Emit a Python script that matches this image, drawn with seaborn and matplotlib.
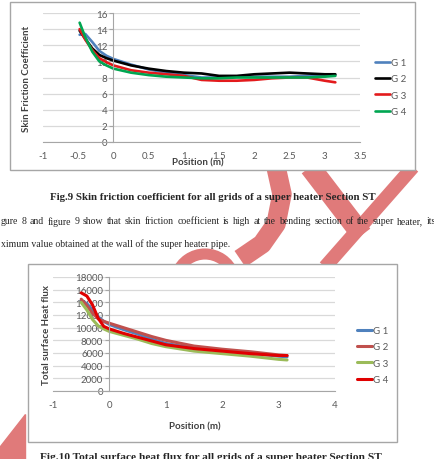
import numpy as np
import pandas as pd
import matplotlib
matplotlib.use("Agg")
import matplotlib.pyplot as plt
import seaborn as sns
from matplotlib.lines import Line2D
from matplotlib.patches import Rectangle, Polygon, Arc

sns.set_style("white")
plt.rcParams['font.family'] = ['Lato', 'DejaVu Sans']

# ---------------- data: Fig.9 skin friction ----------------
sf_pos = [-0.48, -0.4, -0.3, -0.2, -0.1, 0, 0.25, 0.5, 0.75, 1, 1.25, 1.5, 1.75, 2, 2.25, 2.5, 2.75, 3, 3.15]
sf_g1 = [13.3, 13.4, 12.4, 11.3, 10.7, 10.3, 9.6, 9.0, 8.6, 8.3, 8.0, 8.0, 8.1, 8.1, 8.1, 8.1, 8.2, 8.3, 8.3]
sf_g2 = [13.8, 12.8, 11.6, 10.8, 10.4, 10.1, 9.5, 9.1, 8.8, 8.6, 8.5, 8.2, 8.2, 8.4, 8.5, 8.6, 8.5, 8.4, 8.4]
sf_g3 = [14.0, 12.7, 11.4, 10.4, 9.9, 9.5, 8.9, 8.6, 8.4, 8.2, 7.7, 7.6, 7.6, 7.7, 7.9, 8.0, 8.0, 7.6, 7.4]
sf_g4 = [14.8, 13.0, 11.2, 10.0, 9.5, 9.1, 8.6, 8.3, 8.1, 8.0, 7.9, 7.9, 8.0, 8.0, 8.0, 8.0, 8.0, 8.1, 8.2]

# ---------------- data: Fig.10 heat flux ----------------
hf_pos = [-0.5, -0.4, -0.3, -0.2, -0.1, 0, 0.25, 0.5, 0.75, 1, 1.5, 2, 2.5, 3, 3.15]
hf_g1 = [14300, 13800, 12800, 11700, 11000, 10500, 9700, 9000, 8200, 7500, 6800, 6400, 6000, 5500, 5400]
hf_g2 = [14500, 13500, 12300, 11400, 11000, 10700, 10000, 9300, 8600, 8000, 7100, 6600, 6200, 5700, 5600]
hf_g3 = [14000, 12800, 11300, 10300, 9800, 9400, 8800, 8200, 7500, 7000, 6300, 5900, 5500, 5000, 4900]
hf_g4 = [15500, 15000, 13600, 11500, 10200, 9800, 9100, 8500, 7900, 7300, 6700, 6300, 5900, 5600, 5600]

grids = ["G 1", "G 2", "G 3", "G 4"]
sf_ticks = [-1, -0.5, 0, 0.5, 1, 1.5, 2, 2.5, 3, 3.5]
hf_ticks = [-1, 0, 1, 2, 3, 4]

sf_df = pd.concat([pd.DataFrame({"pos": sf_pos, "val": v, "grid": g})
                   for g, v in zip(grids, [sf_g1, sf_g2, sf_g3, sf_g4])])
hf_df = pd.concat([pd.DataFrame({"pos": hf_pos, "val": v, "grid": g})
                   for g, v in zip(grids, [hf_g1, hf_g2, hf_g3, hf_g4])])

W, H = 435, 460
fig = plt.figure(figsize=(W / 100, H / 100), dpi=100)
fig.patch.set_facecolor("white")


def fx(x):
    return x / W


def fy(y):
    return 1 - y / H


# watermark (drawn under the chart boxes)
wm = "#e07a7a"
for pts, lw in [([(276, 168), (282, 195), (276, 225), (262, 245), (240, 260)], 14),
                ([(310, 168), (362, 236)], 15),
                ([(413, 168), (325, 268)], 10)]:
    xs, ys = zip(*pts)
    fig.add_artist(Line2D([fx(v) for v in xs], [fy(v) for v in ys], lw=lw, color=wm,
                          solid_capstyle="butt", solid_joinstyle="round",
                          transform=fig.transFigure, zorder=1))
fig.add_artist(Arc((fx(205), fy(285)), fx(60), 60 / H, theta1=20, theta2=160, lw=8,
                   color=wm, transform=fig.transFigure, zorder=1))
fig.add_artist(Polygon([(fx(25), fy(415)), (fx(25), fy(460)), (fx(0), fy(460)), (fx(0), fy(447))],
                       closed=True, color=wm, transform=fig.transFigure, zorder=1))

# chart borders
for (x0, y0, x1, y1) in [(10, 3, 415, 171), (28, 265, 397, 443)]:
    fig.add_artist(Rectangle((fx(x0), fy(y1)), fx(x1 - x0), (y1 - y0) / H, facecolor="white",
                             edgecolor="#a6a6a6", lw=1.0, transform=fig.transFigure, zorder=2))


def style_axes(ax, ticks, ylim, ystep):
    ax.set_facecolor("none")
    ax.set_xlim(ticks[0], ticks[-1])
    ax.set_ylim(*ylim)
    ax.set_xticks(ticks)
    ax.set_xticklabels([f"{t:g}" for t in ticks])
    yt = np.arange(ylim[0], ylim[1] + 1, ystep)
    ax.set_yticks(yt)
    ax.set_yticklabels([f"{int(t)}" for t in yt])
    ax.grid(axis="y", color="#d9d9d9", lw=0.9)
    ax.grid(axis="x", visible=False)
    for s in ["top", "right"]:
        ax.spines[s].set_visible(False)
    ax.spines["left"].set_position(("data", 0))
    ax.spines["left"].set_color("#a6a6a6")
    ax.spines["bottom"].set_color("#a6a6a6")
    ax.tick_params(axis="x", direction="inout", length=4, width=0.8, color="#a6a6a6",
                   labelsize=7, labelcolor="#595959", pad=4.5)
    ax.tick_params(axis="y", direction="out", length=3, width=0.8, color="#a6a6a6",
                   labelsize=7, labelcolor="#595959", pad=1.5, left=True)
    ax.set_xlabel("")
    ax.set_ylabel("")
    ax.set_zorder(3)


# ---------------- Fig.9 ----------------
ax1 = fig.add_axes([fx(43), fy(143), fx(360 - 43), (143 - 14) / H])
sns.lineplot(data=sf_df, x="pos", y="val", hue="grid", ax=ax1, sort=False, lw=1.9,
             palette=["#4f81bd", "#000000", "#e31a1c", "#00a651"], estimator=None)
style_axes(ax1, sf_ticks, (0, 16), 2)
h, l = ax1.get_legend_handles_labels()
ax1.legend(h, l, loc="center left", bbox_to_anchor=(fx(366), fy(88)), bbox_transform=fig.transFigure,
           frameon=False, fontsize=7, labelcolor="#595959", handlelength=1.6, handletextpad=0.1,
           labelspacing=0.75)
fig.text(fx(198), fy(163), "Position (m)", ha="center", va="center", fontsize=7,
         fontweight="bold", color="#404040", zorder=4)
fig.text(fx(27), fy(79), "Skin Friction Coefficient", ha="center", va="center", rotation=90,
         fontsize=7, fontweight="bold", color="#404040", zorder=4)

# ---------------- Fig.10 ----------------
ax2 = fig.add_axes([fx(53), fy(392), fx(335 - 53), (392 - 278) / H])
sns.lineplot(data=hf_df, x="pos", y="val", hue="grid", ax=ax2, sort=False, lw=2.2,
             palette=["#4f81bd", "#c0504d", "#9bbb59", "#e00000"], estimator=None)
style_axes(ax2, hf_ticks, (0, 18000), 2000)
h, l = ax2.get_legend_handles_labels()
ax2.legend(h, l, loc="center left", bbox_to_anchor=(fx(348), fy(356)), bbox_transform=fig.transFigure,
           frameon=False, fontsize=7, labelcolor="#595959", handlelength=1.6, handletextpad=0.1,
           labelspacing=0.75)
fig.text(fx(195), fy(427), "Position (m)", ha="center", va="center", fontsize=7,
         fontweight="bold", color="#404040", zorder=4)
fig.text(fx(47), fy(335), "Total surface Heat flux", ha="center", va="center", rotation=90,
         fontsize=7, fontweight="bold", color="#404040", zorder=4)

# ---------------- page text ----------------
serif = ["Liberation Serif", "DejaVu Serif"]
fig.text(fx(213), fy(197), "Fig.9 Skin friction coefficient for all grids of a super heater Section ST",
         ha="center", va="center", fontsize=7.8, fontweight="bold", family=serif, zorder=4)

# justified first body line (words spread from x=1 to x=436)
line1 = ("gure 8 and figure 9 show that skin friction coefficient is high at the bending "
         "section of the super heater, its").split()
renderer = fig.canvas.get_renderer()
words = [fig.text(0, fy(222), w, ha="left", va="center", fontsize=7.05, family=serif, zorder=4)
         for w in line1]
widths = [t.get_window_extent(renderer).width for t in words]
gap = (436 - 1 - sum(widths)) / (len(words) - 1)
x = 1
for t, w in zip(words, widths):
    t.set_x(fx(x))
    x += w + gap
fig.text(fx(1), fy(244), "ximum value obtained at the wall of the super heater pipe.",
         ha="left", va="center", fontsize=7.05, family=serif, zorder=4)
fig.text(fx(211), fy(458), "Fig.10 Total surface heat flux for all grids of a super heater Section ST",
         ha="center", va="center", fontsize=8.2, fontweight="bold", family=serif, zorder=4)

fig.savefig("out.png", dpi=100)
